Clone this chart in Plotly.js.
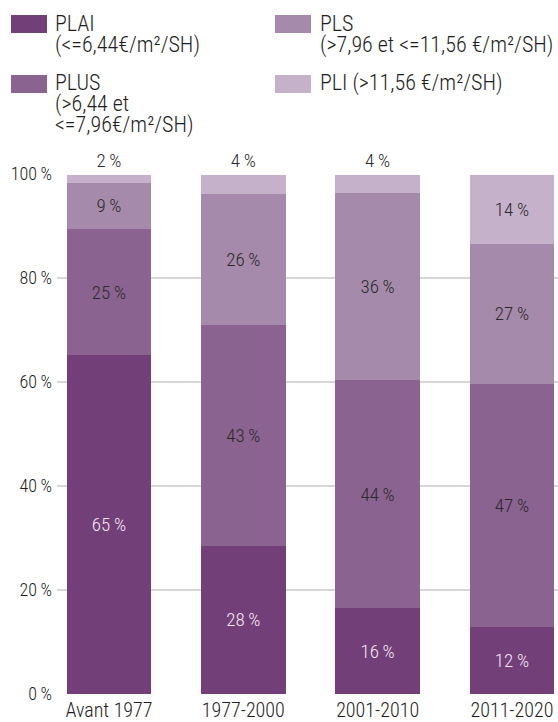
<!DOCTYPE html>
<html>
<head>
<meta charset="utf-8">
<script src="https://cdn.plot.ly/plotly-3.0.1.min.js"></script>
<style>
html,body{margin:0;padding:0;background:#fff;}
#chart{width:558px;height:722px;}
</style>
</head>
<body>
<div id="chart"></div>
<script>
// ---- data ----
const categories = ['Avant 1977', '1977-2000', '2001-2010', '2011-2020'];
const seriesNames = ['PLAI', 'PLUS', 'PLS', 'PLI'];
const legendLabels = [
  'PLAI<br>(&lt;=6,44€/m²/SH)',
  'PLUS<br>(&gt;6,44 et<br>&lt;=7,96€/m²/SH)',
  'PLS<br>(&gt;7,96 et &lt;=11,56 €/m²/SH)',
  'PLI (&gt;11,56 €/m²/SH)'
];
const plai = [65.2, 28.5, 16.5, 12.8];
const plus = [24.2, 42.5, 43.8, 46.9];
const pls  = [8.9, 25.2, 36.0, 26.8];
const pli  = [1.6, 3.7, 3.6, 13.4];
const plaiText = ['65', '28', '16', '12'];
const plusText = ['25', '43', '44', '47'];
const plsText  = ['9', '26', '36', '27'];
const pliText  = ['2', '4', '4', '14'];
const yTicks = [0, 20, 40, 60, 80, 100];

// ---- style ----
const FONT = '"Roboto Condensed", "Archivo Narrow", "DejaVu Sans Condensed", sans-serif';
const colors = ['#723f78', '#8b6390', '#a68aab', '#c6b1ca'];
const darkText = '#2a2a2a';
const lightText = '#f3e8f3';
const W = 558, H = 722;
const M = {l: 57, r: 0, t: 174, b: 28};
const pw = W - M.l - M.r, ph = H - M.t - M.b;
const px = x => (x - M.l) / pw;
const py = y => (H - M.b - y) / ph;
const pct = arr => arr.map(v => v + '\u2009%');

const values = [plai, plus, pls, pli];
const texts = [plaiText, plusText, plsText, pliText];
const traces = values.map((vals, i) => ({
  type: 'bar',
  name: seriesNames[i],
  x: categories,
  y: vals,
  width: 0.63,
  marker: {color: colors[i], line: {width: 0}},
  text: pct(texts[i]),
  textposition: i === 3 ? ['outside', 'outside', 'outside', 'inside'] : 'inside',
  insidetextanchor: 'middle',
  textangle: 0,
  constraintext: 'none',
  cliponaxis: false,
  insidetextfont: {family: FONT, size: 19, weight: 300, color: i === 0 ? lightText : darkText},
  outsidetextfont: {family: FONT, size: 19, weight: 300, color: darkText},
  hoverinfo: 'skip',
  showlegend: false
}));

// manual legend (wide swatches), one annotation per text line
const legendPos = [
  {sx: 11, sy: 15, tx: 53, cy: 24},
  {sx: 11, sy: 75, tx: 53, cy: 83},
  {sx: 275, sy: 15, tx: 318, cy: 24},
  {sx: 275, sy: 75, tx: 318, cy: 83}
];
const LINE = 21;
const shapes = [];
const annotations = [];
legendPos.forEach((p, i) => {
  shapes.push({
    type: 'rect', xref: 'paper', yref: 'paper',
    x0: px(p.sx), x1: px(p.sx + 36), y0: py(p.sy), y1: py(p.sy + 18),
    fillcolor: colors[i], line: {width: 0}
  });
  legendLabels[i].split('<br>').forEach((line, k) => {
    annotations.push({
      xref: 'paper', yref: 'paper', x: px(p.tx), y: py(p.cy + k * LINE),
      xanchor: 'left', yanchor: 'middle', align: 'left', showarrow: false,
      text: line,
      font: {family: FONT, size: 22, weight: 300, color: '#1e1e1e'}
    });
  });
});

const layout = {
  width: W, height: H,
  margin: M,
  paper_bgcolor: '#fff', plot_bgcolor: '#fff',
  barmode: 'stack',
  showlegend: false,
  font: {family: FONT, color: '#222'},
  xaxis: {
    type: 'category',
    range: [-0.387, 3.343],
    showgrid: false, zeroline: false, showline: false,
    ticks: '', ticklabelstandoff: 2,
    tickfont: {family: FONT, size: 20, weight: 300, color: '#1e1e1e'},
    fixedrange: true
  },
  yaxis: {
    range: [0, 100],
    tickvals: yTicks,
    ticktext: yTicks.map(v => v + '\u2009%'),
    showgrid: true, gridcolor: 'rgba(0,0,0,0.16)', gridwidth: 2,
    zeroline: false, showline: false, ticks: '',
    ticklabelstandoff: 4,
    layer: 'above traces',
    tickfont: {family: FONT, size: 18, weight: 300, color: '#1e1e1e'},
    fixedrange: true
  },
  shapes: shapes,
  annotations: annotations
};

Plotly.newPlot('chart', traces, layout, {displayModeBar: false, staticPlot: true});
</script>
</body>
</html>
